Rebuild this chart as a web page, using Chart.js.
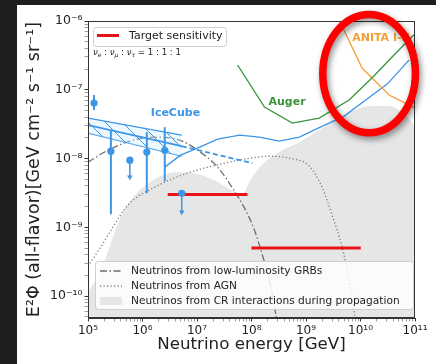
<!DOCTYPE html>
<html><head><meta charset="utf-8">
<script src="https://cdn.jsdelivr.net/npm/chart.js@4.4.1/dist/chart.umd.min.js"></script>
<style>html,body{margin:0;padding:0;background:#1e1e1e;overflow:hidden}canvas{display:block}</style>
</head><body>
<canvas id="c" width="436" height="364"></canvas>
<script>
// ---------------- data (energy in GeV, flux E^2 Phi in GeV cm^-2 s^-1 sr^-1) ----------------
const crEnergy  = [1e5, 1.66e5, 2.52e5, 4.02e5, 7.24e5, 1.36e6, 2.56e6, 4.82e6, 1.03e7, 2.10e7, 4.31e7, 6.84e7, 1.0e8, 1.52e8, 3.69e8, 7.55e8, 1.99e9, 5.46e9, 1.63e10, 3.34e10, 6.28e10, 1e11];
const crFlux    = [1.14e-10, 2.22e-10, 5.31e-10, 1.45e-9, 2.93e-9, 4.53e-9, 5.93e-9, 6.34e-9, 5.93e-9, 4.85e-9, 3.47e-9, 3.13e-9, 5.19e-9, 8.02e-9, 1.32e-8, 1.73e-8, 2.77e-8, 4.43e-8, 5.79e-8, 5.79e-8, 4.43e-8, 2.96e-8];

const agnEnergy = [1e5, 1.66e5, 2.51e5, 5.37e5, 1.68e6, 6.75e6, 2.71e7, 9.18e7, 2.13e8, 4.95e8, 1.15e9, 2.0e9, 3.02e9, 4.61e9, 6.17e9, 7.94e9];
const agnFlux   = [2.72e-10, 4.97e-10, 8.49e-10, 2.10e-9, 3.84e-9, 6.14e-9, 8.30e-9, 1.01e-8, 1.08e-8, 1.01e-8, 7.76e-9, 3.72e-9, 1.50e-9, 5.13e-10, 1.70e-10, 4.9e-11];

const grbEnergy = [1e5, 2.32e5, 5.86e5, 1.68e6, 4.82e6, 1.03e7, 2.39e7, 4.49e7, 7.45e7, 1.135e8, 1.585e8, 2.13e8, 2.86e8];
const grbFlux   = [8.87e-9, 1.32e-8, 1.79e-8, 2.05e-8, 1.85e-8, 1.32e-8, 7.5e-9, 3.71e-9, 1.90e-9, 9.08e-10, 3.93e-10, 1.70e-10, 4.9e-11];

const bandEnergy = [1e5, 5.25e6];
const bandUpper  = [3.87e-8, 2.19e-8];
const bandLower  = [2.34e-8, 1.08e-8];
const bandFit    = [3.06e-8, 1.51e-8];

const extEnergy = [5.25e6, 1.04e8];
const extFlux   = [1.51e-8, 8.57e-9];

const eheEnergy = [2.56e6, 5.01e6, 1.12e7, 2.39e7, 6.03e7, 1.40e8, 3.25e8, 7.55e8, 2.0e9, 5.01e9, 1.32e10, 3.09e10, 7.76e10];
const eheFlux   = [7.5e-9, 1.12e-8, 1.47e-8, 1.91e-8, 2.19e-8, 2.05e-8, 1.79e-8, 2.05e-8, 2.96e-8, 4.14e-8, 7.33e-8, 1.21e-7, 2.70e-7];

const augerEnergy = [5.55e7, 1.73e8, 5.62e8, 1.75e9, 6.17e9, 1.62e10, 3.80e10, 9.55e10];
const augerFlux   = [2.29e-7, 5.60e-8, 3.27e-8, 3.87e-8, 7.08e-8, 1.48e-7, 2.99e-7, 6.31e-7];

const anitaEnergy = [3.9e9, 1.07e10, 3.34e10, 1e11];
const anitaFlux   = [1.1e-6, 2.07e-7, 8.38e-8, 5.42e-8];

const target1Energy = [2.9e6, 8.45e7];
const target1Flux   = [3.0e-9, 3.0e-9];
const target2Energy = [1.0e8, 1.01e10];
const target2Flux   = [5.0e-10, 5.0e-10];

const pointEnergy = [1.29e5, 2.63e5, 5.86e5, 1.20e6, 2.56e6, 5.25e6];
const pointFlux   = [6.4e-8, 1.28e-8, 9.48e-9, 1.24e-8, 1.32e-8, 3.13e-9];
const errEnergy = [1.29e5, 2.63e5, 1.20e6, 2.56e6];
const errHigh   = [8.38e-8, 2.59e-8, 2.42e-8, 2.86e-8];
const errLow    = [5.07e-8, 1.55e-9, 3.13e-9, 4.69e-9];
const ulEnergy = [5.86e5, 5.25e6];
const ulFrom   = [9.48e-9, 3.13e-9];
const ulTip    = [5.37e-9, 1.66e-9];

const xTickExp = [5, 6, 7, 8, 9, 10, 11];
const yTickExp = [-10, -9, -8, -7, -6];
const xMin = 1e5, xMax = 1e11, yMin = 4.8e-11, yMax = 1e-6;

const legendTop = ['Target sensitivity'];
const legendBottom = ['Neutrinos from low-luminosity GRBs', 'Neutrinos from AGN', 'Neutrinos from CR interactions during propagation'];

// ---------------- styling ----------------
const FONT = 'DejaVu Sans';
const BLUE = '#3d95e5', GREEN = '#3b933b', ORANGE = '#f3a033', RED = '#e8141a', GRAYFILL = '#e6e6e6';
const TXT = '#222';

const SUP = {'-':'⁻','0':'⁰','1':'¹','2':'²','3':'³','4':'⁴','5':'⁵','6':'⁶','7':'⁷','8':'⁸','9':'⁹'};
const sup = n => String(n).split('').map(c => SUP[c]).join('');
const isPow = v => { const l = Math.log10(v); return Math.abs(l - Math.round(l)) < 1e-6; };
const tickLabel = v => isPow(v) ? '10' + sup(Math.round(Math.log10(v))) : '';
function logTicks(exps, lo, hi) {
  const t = [];
  for (let i = 0; i < exps.length; i++) {
    const e = exps[i];
    for (let k = 1; k < 10; k++) {
      const v = k * Math.pow(10, e);
      if (v >= lo * 0.999 && v <= hi * 1.001) t.push({value: v, major: k === 1});
    }
  }
  const e0 = exps[0] - 1;
  for (let k = 2; k < 10; k++) { const v = k * Math.pow(10, e0); if (v >= lo * 0.999) t.push({value: v, major: false}); }
  return t.sort((a, b) => a.value - b.value);
}

const pts = (E, F) => E.map((e, i) => ({x: e, y: F[i]}));
function line(E, F, o) {
  return Object.assign({data: pts(E, F), pointRadius: 0, pointHoverRadius: 0, fill: false, tension: 0, borderWidth: 1.3}, o);
}

const ctx0 = document.getElementById('c').getContext('2d');
function hatchPattern() {
  const s = 17, c = document.createElement('canvas'); c.width = s; c.height = s;
  const g = c.getContext('2d');
  g.fillStyle = 'rgba(205,238,255,0.35)'; g.fillRect(0, 0, s, s);
  g.strokeStyle = BLUE; g.lineWidth = 1;
  g.beginPath();
  g.moveTo(0, 0); g.lineTo(s, s);
  g.moveTo(-2, s - 2); g.lineTo(2, s + 2);
  g.moveTo(s - 2, -2); g.lineTo(s + 2, 2);
  g.stroke();
  return ctx0.createPattern(c, 'repeat');
}

const datasets = [
  line(crEnergy, crFlux, {order: 100, fill: 'start', backgroundColor: GRAYFILL, borderColor: 'rgba(0,0,0,0)', borderWidth: 0.01, cubicInterpolationMode: 'monotone'}),
  line(agnEnergy, agnFlux, {order: 90, borderColor: '#7a7a7a', borderWidth: 1.3, borderDash: [1.2, 2.3], cubicInterpolationMode: 'monotone'}),
  line(grbEnergy, grbFlux, {order: 85, borderColor: '#6e6e6e', borderWidth: 1.3, borderDash: [7, 2.5, 1.5, 2.5], cubicInterpolationMode: 'monotone'}),
  line(bandEnergy, bandUpper, {order: 80, borderColor: BLUE, borderWidth: 1.1, fill: '+1', backgroundColor: hatchPattern()}),
  line(bandEnergy, bandLower, {order: 80, borderColor: BLUE, borderWidth: 1.1}),
  line(bandEnergy, bandFit, {order: 79, borderColor: BLUE, borderWidth: 1.8}),
  line(extEnergy, extFlux, {order: 78, borderColor: BLUE, borderWidth: 1.8, borderDash: [5, 3]}),
  line(eheEnergy, eheFlux, {order: 77, borderColor: BLUE, borderWidth: 1.3}),
  line(augerEnergy, augerFlux, {order: 70, borderColor: GREEN, borderWidth: 1.3}),
  line(anitaEnergy, anitaFlux, {order: 70, borderColor: ORANGE, borderWidth: 1.3}),
  line(target1Energy, target1Flux, {order: 60, borderColor: RED, borderWidth: 3}),
  line(target2Energy, target2Flux, {order: 60, borderColor: RED, borderWidth: 3}),
];
errEnergy.forEach((e, i) => datasets.push(line([e, e], [errLow[i], errHigh[i]], {order: 50, borderColor: BLUE, borderWidth: 2})));
ulEnergy.forEach((e, i) => {
  datasets.push(line([e, e], [ulFrom[i], ulTip[i]], {order: 50, borderColor: BLUE, borderWidth: 1.5}));
});
datasets.push(line(ulEnergy, ulTip, {order: 45, showLine: false, pointRadius: 3.2, pointStyle: 'triangle', rotation: 180, pointBackgroundColor: BLUE, pointBorderColor: BLUE, pointBorderWidth: 0}));
datasets.push(line(pointEnergy, pointFlux, {order: 40, showLine: false, pointRadius: 3.6, pointStyle: 'circle', pointBackgroundColor: BLUE, pointBorderColor: BLUE, pointBorderWidth: 0}));

// annotation anchors (data coordinates)
const labels = [
  {text: 'IceCube', E: 1.42e6, F: 4.58e-8, color: BLUE},
  {text: 'Auger', E: 2.05e8, F: 6.62e-8, color: GREEN},
  {text: 'ANITA I-II', E: 7.03e9, F: 5.66e-7, color: ORANGE},
];
const ratioAnchor = {E: 1.23e5, F: 3.42e-7};
const ellipseCenter = {E: Math.pow(10, 10.158), F: Math.pow(10, -6.764)};
const ellipseHalfSpanDecades = [0.85, 0.86];

const decor = {
  id: 'decor',
  beforeDraw(chart) {
    const c = chart.ctx;
    c.save();
    c.fillStyle = '#1e1e1e'; c.fillRect(0, 0, chart.width, chart.height);
    c.fillStyle = '#ffffff'; c.fillRect(17, 5, chart.width - 17, chart.height - 5);
    c.restore();
  },
  afterDatasetsDraw(chart) {
    const c = chart.ctx, a = chart.chartArea, xs = chart.scales.x, ys = chart.scales.y;
    c.save();
    c.strokeStyle = '#333'; c.lineWidth = 1;
    c.strokeRect(Math.round(a.left) + 0.5, Math.round(a.top) + 0.5, Math.round(a.right - a.left) - 1, Math.round(a.bottom - a.top) - 1);
    c.textBaseline = 'middle'; c.textAlign = 'left';
    labels.forEach(l => {
      c.font = 'bold 11px "' + FONT + '"'; c.fillStyle = l.color;
      c.fillText(l.text, xs.getPixelForValue(l.E), ys.getPixelForValue(l.F));
    });
    let px = xs.getPixelForValue(ratioAnchor.E); const py = ys.getPixelForValue(ratioAnchor.F);
    const parts = [['ν','i'],['e','s'],[' : ','n'],['ν','i'],['μ','s'],[' : ','n'],['ν','i'],['τ','s'],[' = 1 : 1 : 1','n']];
    c.fillStyle = TXT;
    parts.forEach(([t, k]) => {
      c.font = (k === 'i' ? 'italic 8.6px "' : k === 's' ? 'italic 6px "' : '8.6px "') + FONT + '"';
      c.fillText(t, px, py + (k === 's' ? 2.5 : 0));
      px += c.measureText(t).width;
    });
    const box = (x, y, w, h) => {
      c.beginPath(); c.roundRect(x, y, w, h, 3);
      c.fillStyle = 'rgba(255,255,255,0.82)'; c.fill();
      c.strokeStyle = '#cfcfcf'; c.lineWidth = 1; c.stroke();
    };
    box(a.left + 5.5, a.top + 6.5, 133, 19);
    c.strokeStyle = RED; c.lineWidth = 3; c.setLineDash([]);
    c.beginPath(); c.moveTo(a.left + 9, a.top + 14.5); c.lineTo(a.left + 31, a.top + 14.5); c.stroke();
    c.fillStyle = TXT; c.font = '11px "' + FONT + '"';
    c.fillText(legendTop[0], a.left + 41, a.top + 15.5);
    const by = a.bottom - 56.5;
    box(a.left + 7.5, by, 318, 48);
    const rows = [by + 9.5, by + 24.5, by + 39.5];
    c.lineWidth = 1.3;
    c.strokeStyle = '#6e6e6e'; c.setLineDash([7, 2.5, 1.5, 2.5]);
    c.beginPath(); c.moveTo(a.left + 12, rows[0]); c.lineTo(a.left + 34, rows[0]); c.stroke();
    c.strokeStyle = '#7a7a7a'; c.setLineDash([1.2, 2.3]);
    c.beginPath(); c.moveTo(a.left + 12, rows[1]); c.lineTo(a.left + 34, rows[1]); c.stroke();
    c.setLineDash([]);
    c.fillStyle = GRAYFILL; c.fillRect(a.left + 12, rows[2] - 4, 22, 8);
    c.fillStyle = TXT; c.font = '10.6px "' + FONT + '"';
    legendBottom.forEach((t, i) => c.fillText(t, a.left + 43, rows[i] + 0.5));
    c.restore();
  },
  afterDraw(chart) {
    const c = chart.ctx, xs = chart.scales.x, ys = chart.scales.y;
    const cx = xs.getPixelForValue(ellipseCenter.E), cy = ys.getPixelForValue(ellipseCenter.F);
    const rx = xs.getPixelForValue(ellipseCenter.E * Math.pow(10, ellipseHalfSpanDecades[0])) - cx;
    const ry = cy - ys.getPixelForValue(ellipseCenter.F * Math.pow(10, ellipseHalfSpanDecades[1]));
    c.save();
    c.shadowColor = 'rgba(0,0,0,0.45)'; c.shadowBlur = 6; c.shadowOffsetX = 2; c.shadowOffsetY = 3;
    c.strokeStyle = '#ff0000'; c.lineWidth = 7.5;
    c.beginPath(); c.ellipse(cx, cy, rx, ry, 0, 0, Math.PI * 2); c.stroke();
    c.restore();
  }
};

const tickColor = ctx => (ctx.tick && isPow(ctx.tick.value)) ? '#333' : '#777';
const tickWidth = ctx => (ctx.tick && isPow(ctx.tick.value)) ? 1 : 0.7;

new Chart(ctx0, {
  type: 'line',
  data: {datasets},
  plugins: [decor],
  options: {
    responsive: false, animation: false, devicePixelRatio: 1, events: [],
    layout: {padding: {left: 17, top: 21, right: 21, bottom: 0}},
    plugins: {legend: {display: false}, tooltip: {enabled: false}, title: {display: false}},
    scales: {
      x: {
        type: 'logarithmic', min: xMin, max: xMax,
        afterBuildTicks: s => { s.ticks = logTicks(xTickExp, xMin, xMax); },
        afterFit: s => { s.height = 46; },
        ticks: {callback: tickLabel, autoSkip: false, maxRotation: 0, minRotation: 0, padding: 2, color: TXT, font: {family: FONT, size: 12}},
        grid: {drawOnChartArea: false, drawTicks: true, tickLength: 3.5, tickColor, tickWidth},
        border: {display: true, color: '#333', width: 1},
        title: {display: true, text: 'Neutrino energy [GeV]', color: TXT, font: {family: FONT, size: 16.7}, padding: {top: 0, bottom: 9}}
      },
      y: {
        type: 'logarithmic', min: yMin, max: yMax,
        afterBuildTicks: s => { s.ticks = logTicks(yTickExp, yMin, yMax); },
        afterFit: s => { s.width = 71; },
        ticks: {callback: tickLabel, autoSkip: false, padding: 2, color: TXT, font: {family: FONT, size: 12.5}},
        grid: {drawOnChartArea: false, drawTicks: true, tickLength: 3.5, tickColor, tickWidth},
        border: {display: true, color: '#333', width: 1},
        title: {display: true, text: 'E²Φ (all-flavor)[GeV cm⁻² s⁻¹ sr⁻¹]', color: TXT, font: {family: FONT, size: 17.5}, padding: {top: 7, bottom: 0}}
      }
    }
  }
});
</script></body></html>
